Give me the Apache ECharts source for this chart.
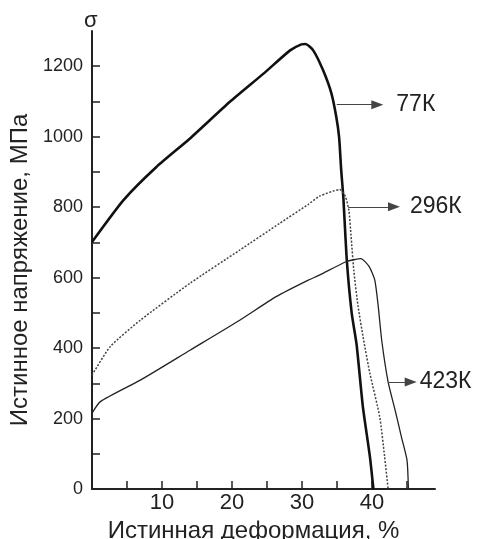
<!DOCTYPE html>
<html>
<head>
<meta charset="utf-8">
<script src="https://cdn.jsdelivr.net/npm/echarts@6/dist/echarts.min.js"></script>
<style>html,body{margin:0;padding:0;background:#fff}#c{width:487px;height:539px}</style>
</head>
<body>
<div id="c"></div>
<script>
// ---- data (true strain %, true stress MPa) ----
const strain77  = [0, 4.5, 9.2, 14.0, 19.7, 24.5, 28.3, 29.9, 30.5, 31.6, 33.0, 34.2, 34.9, 35.3, 35.6, 35.9, 36.4, 37.1, 37.8, 38.7, 39.7, 40.2];
const stress77  = [701, 820, 914, 995, 1099, 1179, 1245, 1262, 1263, 1245, 1189, 1123, 1056, 999, 905, 829, 650, 499, 410, 233, 92, 0];

const strain296 = [0, 2.6, 6.9, 14.0, 21.1, 26.8, 30.9, 32.5, 35.4, 36.2, 36.7, 37.0, 37.4, 38.0, 38.8, 39.7, 41.1, 41.8, 42.3];
const stress296 = [323, 404, 479, 584, 678, 754, 808, 831, 850, 830, 790, 720, 620, 520, 423, 328, 205, 92, 0];

const strain423 = [0, 1.2, 6.9, 14.0, 21.1, 26.3, 30.9, 32.5, 36.3, 38.4, 39.6, 40.4, 40.9, 41.4, 42.3, 43.3, 44.2, 45.0, 45.2];
const stress423 = [215, 248, 309, 394, 479, 546, 593, 607, 645, 654, 631, 593, 517, 420, 304, 224, 148, 82, 0];

const seriesNames = ['77К', '296К', '423К'];
// arrow annotations: y level (MPa), start strain, end strain
const arrowStress = [1091, 801, 304];
const arrowFrom   = [34.96, 36.61, 42.33];
const arrowTo     = [40.76, 43.14, 45.53];

const xTickValues  = [5, 10, 15, 20, 25, 30, 35, 40, 45];
const xLabelValues = [10, 20, 30, 40];
const yTickValues  = [100, 200, 300, 400, 500, 600, 700, 800, 900, 1000, 1100, 1200];
const yLabelValues = [0, 200, 400, 600, 800, 1000, 1200];

const xTitle = 'Истинная деформация, %';
const yTitle = 'Истинное напряжение, МПа';
const sigma = 'σ';

const zip = (a, b) => a.map((v, i) => [v, b[i]]);

const labelDist = [19, 16, 9];
const lineStyles = [
  {color: '#111', width: 2.6, type: 'solid'},
  {color: '#444', width: 1.5, type: [2, 1.6]},
  {color: '#222', width: 1.3, type: 'solid'}
];
const datas = [zip(strain77, stress77), zip(strain296, stress296), zip(strain423, stress423)];

const chart = echarts.init(document.getElementById('c'), null, {renderer: 'canvas'});
chart.setOption({
  animation: false,
  backgroundColor: '#fff',
  title: {
    text: sigma, left: 84, top: 10, padding: 0,
    textStyle: {fontFamily: 'Liberation Sans', fontSize: 22, fontWeight: 'normal', color: '#222'}
  },
  grid: {left: 92, right: 52, top: 31, bottom: 50, containLabel: false, outerBoundsMode: 'none'},
  xAxis: {
    type: 'value', min: 0, max: 49,
    name: xTitle, nameLocation: 'middle', nameGap: 20,
    nameTextStyle: {fontFamily: 'Liberation Sans', fontSize: 24, color: '#222', padding: [0, 20, 0, 0]},
    axisLine: {show: true, onZero: false, lineStyle: {color: '#222', width: 2}},
    axisTick: {show: true, inside: true, length: 8, lineStyle: {color: '#222', width: 1.5}, customValues: xTickValues},
    axisLabel: {show: true, margin: 3, fontFamily: 'Liberation Sans', fontSize: 22, color: '#222', customValues: xLabelValues},
    splitLine: {show: false}
  },
  yAxis: {
    type: 'value', min: 0, max: 1300,
    name: yTitle, nameLocation: 'middle', nameGap: 52, nameRotate: 90,
    nameTextStyle: {fontFamily: 'Liberation Sans', fontSize: 24, color: '#222', padding: [0, 20, 0, 0]},
    axisLine: {show: true, onZero: false, lineStyle: {color: '#222', width: 2}},
    axisTick: {show: true, inside: true, length: 8, lineStyle: {color: '#222', width: 1.5}, customValues: yTickValues},
    axisLabel: {show: true, margin: 9, fontFamily: 'Liberation Sans', fontSize: 18, color: '#222', customValues: yLabelValues,
      formatter: v => String(v)},
    splitLine: {show: false}
  },
  series: datas.map((d, i) => ({
    type: 'line', name: seriesNames[i], data: d,
    showSymbol: false, symbol: 'none', smooth: 0.2,
    lineStyle: lineStyles[i],
    markLine: {
      silent: true, animation: false,
      symbol: ['none', 'triangle'], symbolSize: [9, 12],
      lineStyle: {color: '#444', width: 1, type: 'solid'},
      label: {
        show: true, position: 'end', distance: labelDist[i],
        formatter: seriesNames[i],
        fontFamily: 'Liberation Sans', fontSize: 23, color: '#222'
      },
      data: [[{coord: [arrowFrom[i], arrowStress[i]]}, {coord: [arrowTo[i], arrowStress[i]]}]]
    }
  }))
});
</script>
</body>
</html>
